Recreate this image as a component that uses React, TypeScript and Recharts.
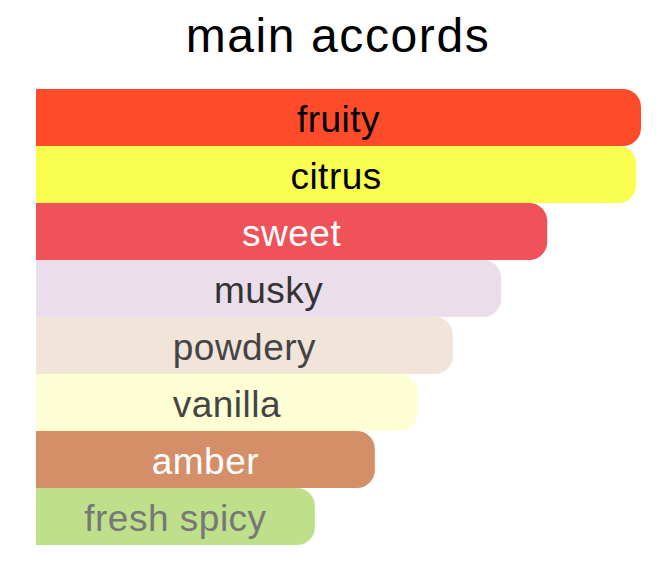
import React from 'react';
import { BarChart, Bar, XAxis, YAxis, Cell, LabelList } from 'recharts';

const accords = ['fruity', 'citrus', 'sweet', 'musky', 'powdery', 'vanilla', 'amber', 'fresh spicy'];
const strengths = [100, 99.2, 84.5, 76.9, 68.9, 63.1, 56.0, 46.1];
const barColors = ['#FE4C2B', '#F9FE4F', '#F0525A', '#EADEEB', '#F1E4D9', '#FEFED4', '#D48F69', '#BEE08A'];
const textColors = ['#000000', '#000000', '#FFFFFF', '#333333', '#444444', '#444444', '#FFFFFF', '#777777'];

const data = accords.map((name, i) => ({ name, value: strengths[i] }));

const font = '"Liberation Sans", Arial, Helvetica, sans-serif';

const renderLabel = (props: any) => {
    const { x, y, width, height, index } = props;
    return (
        <text
            x={x + width / 2}
            y={y + height / 2}
            dy="0.38em"
            textAnchor="middle"
            fill={textColors[index]}
            fontSize={37}
            letterSpacing={0.5}
            fontFamily={font}
        >
            {accords[index]}
        </text>
    );
};

const App: React.FC = () => {
    return (
        <div style={{ position: 'absolute', left: 0, top: 0, width: 669, height: 567, background: '#fff' }}>
            <div
                style={{
                    position: 'absolute',
                    left: 0,
                    top: 6,
                    width: 676,
                    textAlign: 'center',
                    fontFamily: font,
                    fontSize: 48,
                    letterSpacing: 1.6,
                    lineHeight: '60px',
                    color: '#000',
                }}
            >
                main accords
            </div>
            <BarChart
                width={669}
                height={567}
                data={data}
                layout="vertical"
                margin={{ top: 89, right: 28, bottom: 22, left: 36 }}
                barCategoryGap={0}
            >
                <XAxis type="number" domain={[0, 100]} hide />
                <YAxis type="category" dataKey="name" hide />
                <Bar dataKey="value" radius={[0, 18, 18, 0]} isAnimationActive={false}>
                    {data.map((entry, index) => (
                        <Cell key={`cell-${index}`} fill={barColors[index]} />
                    ))}
                    <LabelList dataKey="name" content={renderLabel} />
                </Bar>
            </BarChart>
        </div>
    );
};

export default App;
